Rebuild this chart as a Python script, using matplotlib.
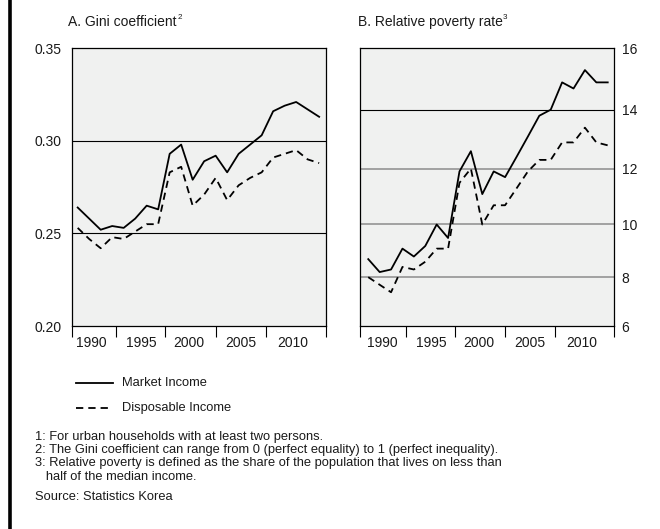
import numpy as np
import matplotlib
matplotlib.use("Agg")
import matplotlib.pyplot as plt
from matplotlib.lines import Line2D
from matplotlib.ticker import NullLocator

plt.rcParams['font.family'] = ['Liberation Sans', 'DejaVu Sans']
plt.rcParams['lines.scale_dashes'] = False

# ---- data -----------------------------------------------------------------
years = list(range(1990, 2012))

gini_market = [0.264, 0.258, 0.252, 0.254, 0.253, 0.258, 0.265, 0.263,
               0.293, 0.298, 0.279, 0.289, 0.292, 0.283, 0.293, 0.298,
               0.303, 0.316, 0.319, 0.321, 0.317, 0.313]
gini_disposable = [0.253, 0.247, 0.242, 0.248, 0.247, 0.251, 0.255, 0.255,
                   0.283, 0.286, 0.265, 0.271, 0.280, 0.268, 0.276, 0.280,
                   0.283, 0.291, 0.293, 0.295, 0.290, 0.288]

poverty_market = [8.7, 8.2, 8.3, 9.1, 8.8, 9.2, 10.0, 9.5,
                  11.9, 12.6, 11.1, 11.9, 11.7, 12.4, 13.1, 13.8,
                  14.0, 14.9, 14.7, 15.3, 14.9, 14.9]
poverty_disposable = [8.0, 7.7, 7.4, 8.4, 8.3, 8.6, 9.1, 9.1,
                      11.5, 12.0, 10.0, 10.7, 10.7, 11.3, 11.9, 12.3,
                      12.3, 12.9, 12.9, 13.4, 12.9, 12.8]

gini_ticks = [0.20, 0.25, 0.30, 0.35]
poverty_ticks = [6, 8, 10, 12, 14, 16]
year_labels = ["1990", "1995", "2000", "2005", "2010"]
series_labels = ["Market Income", "Disposable Income"]
titles = ["A. Gini coefficient", "B. Relative poverty rate"]
title_marks = ["2", "3"]
footnotes = [
    "1: For urban households with at least two persons.",
    "2: The Gini coefficient can range from 0 (perfect equality) to 1 (perfect inequality).",
    "3: Relative poverty is defined as the share of the population that lives on less than",
    "   half of the median income.",
]
source_note = "Source: Statistics Korea"

# ---- layout helpers ---------------------------------------------------------
W, H = 660, 529
fig = plt.figure(figsize=(W / 100, H / 100), dpi=100)


def fx(x):
    return x / W


def fy(y):
    return 1 - y / H


def px_box(l, t, r, b):
    return [l / W, 1 - b / H, (r - l) / W, (b - t) / H]


BG = '#f0f1f0'
TXT = '#1a1a1a'
LW = 1.3
DASH = (0, (5.2, 3.6))
FS = 10

label_pos = [1991.2, 1995.5, 1999.7, 2004.2, 2008.7]
bounds = [1993.3, 1997.6, 2002.0, 2006.4]


def style_x(ax, xlim):
    ax.set_facecolor(BG)
    ax.set_xlim(*xlim)
    ax.set_xticks([xlim[0]] + bounds + [xlim[1]])
    ax.set_xticklabels([])
    ax.tick_params(axis='x', which='major', direction='out', length=7.7,
                   width=0.8, color='black')
    ax.set_xticks(label_pos, minor=True)
    ax.set_xticklabels(year_labels, minor=True, fontsize=FS, color=TXT)
    ax.tick_params(axis='x', which='minor', length=0, pad=7.0)
    for s in ax.spines.values():
        s.set_linewidth(0.9)
        s.set_color('black')


# ---- panel A: Gini coefficient ---------------------------------------------
axA = fig.add_axes(px_box(71.7, 48.3, 325.7, 326))
style_x(axA, (1989.48, 2011.57))
axA.set_ylim(0.20, 0.35)
axA.set_yticks(gini_ticks)
axA.set_yticklabels([f"{v:.2f}" for v in gini_ticks], fontsize=FS, color=TXT)
axA.tick_params(axis='y', length=0, pad=7.0)
for v in gini_ticks[1:-1]:
    axA.axhline(v, color='black', lw=0.8, zorder=1)
axA.plot(years, gini_market, color='black', lw=LW, zorder=3)
axA.plot(years, gini_disposable, color='black', lw=LW, linestyle=DASH, zorder=3)

# ---- panel B: relative poverty rate (stretched scale) -----------------------
def fwd(v):
    v = np.asarray(v, dtype=float)
    return np.sign(v) * np.abs(v) ** 1.3


def inv(v):
    v = np.asarray(v, dtype=float)
    return np.sign(v) * np.abs(v) ** (1 / 1.3)


axB = fig.add_axes(px_box(359.7, 48.3, 614, 326))
style_x(axB, (1989.25, 2011.55))
axB.set_yscale('function', functions=(fwd, inv))
axB.set_ylim(6, 16)
axB.yaxis.tick_right()
axB.set_yticks(poverty_ticks)
axB.set_yticklabels([str(v) for v in poverty_ticks], fontsize=FS, color=TXT)
axB.yaxis.set_minor_locator(NullLocator())
axB.tick_params(axis='y', length=0, pad=5.5)
for v in poverty_ticks[1:-1]:
    if v == 14:
        axB.axhline(v, color='black', lw=0.8, zorder=1)
    else:
        axB.axhline(v, color='#8c8c8c', lw=1.1, zorder=1)
axB.plot(years, poverty_market, color='black', lw=LW, zorder=3)
axB.plot(years, poverty_disposable, color='black', lw=LW, linestyle=DASH, zorder=3)

# ---- titles -----------------------------------------------------------------
for x0, title, mark in zip([68.3, 357.7], titles, title_marks):
    t = fig.text(fx(x0), fy(22), title, fontsize=FS, color=TXT,
                 ha='left', va='center')
    fig.canvas.draw()
    bb = t.get_window_extent()
    fig.text(bb.x1 / W + 0.5 / W, fy(17.5), mark, fontsize=5.8, color=TXT,
             ha='left', va='center')

# ---- legend -----------------------------------------------------------------
fig.add_artist(Line2D([fx(76), fx(113.3)], [fy(382.7)] * 2, color='black',
                      lw=LW, transform=fig.transFigure))
fig.add_artist(Line2D([fx(76), fx(109.5)], [fy(408.3)] * 2, color='black',
                      lw=LW, linestyle=(0, (5.25, 3.6)),
                      transform=fig.transFigure))
fig.text(fx(121.7), fy(382.7), series_labels[0], fontsize=9.3, color=TXT,
         ha='left', va='center')
fig.text(fx(121.7), fy(408.3), series_labels[1], fontsize=9.3, color=TXT,
         ha='left', va='center')

# ---- footnotes --------------------------------------------------------------
for y, line in zip([437.3, 450.2, 463.3, 476.5], footnotes):
    fig.text(fx(35), fy(y), line, fontsize=9.3, color=TXT, ha='left', va='center')
fig.text(fx(35), fy(496.7), source_note, fontsize=9.3, color=TXT,
         ha='left', va='center')

# ---- frame bar on the left --------------------------------------------------
fig.add_artist(Line2D([fx(9.5)] * 2, [0, 1], color='black', lw=2.6,
                      transform=fig.transFigure))

fig.savefig("out.png", dpi=100)
